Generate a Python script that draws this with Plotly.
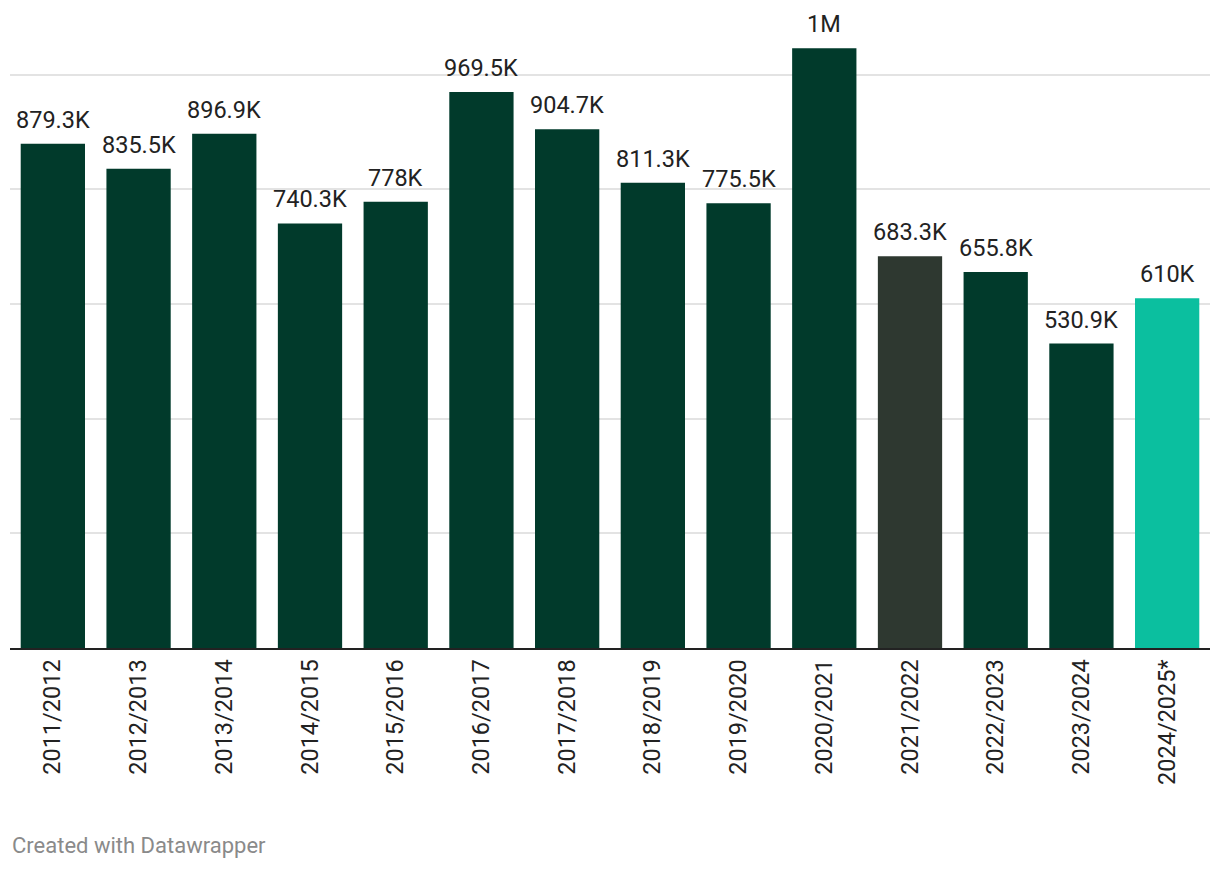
import plotly.graph_objects as go

seasons = ["2011/2012", "2012/2013", "2013/2014", "2014/2015", "2015/2016",
           "2016/2017", "2017/2018", "2018/2019", "2019/2020", "2020/2021",
           "2021/2022", "2022/2023", "2023/2024", "2024/2025*"]
values = [879300, 835500, 896900, 740300, 778000, 969500, 904700, 811300,
          775500, 1046000, 683300, 655800, 530900, 610000]
labels = ["879.3K", "835.5K", "896.9K", "740.3K", "778K", "969.5K", "904.7K",
          "811.3K", "775.5K", "1M", "683.3K", "655.8K", "530.9K", "610K"]

DARK = "#013a2b"
colors = [DARK] * len(seasons)
colors[10] = "#2e3830"
colors[13] = "#0bbf9f"

W, H = 1204, 854
PLOT_H = 640
B = H - PLOT_H

fig = go.Figure(go.Bar(
    x=seasons, y=values,
    marker=dict(color=colors, line=dict(width=0)),
    cliponaxis=False, hoverinfo="skip",
))

annotations = [dict(x=s, y=v, text=t, xref="x", yref="y", xanchor="center",
                    yanchor="bottom", yshift=8, showarrow=False,
                    font=dict(family="Roboto", size=23.5, color="#222222"))
               for s, v, t in zip(seasons, values, labels)]
annotations.append(dict(text="Created with Datawrapper", x=0,
                        y=-(837 - PLOT_H) / PLOT_H,
                        xref="paper", yref="paper", xanchor="left", yanchor="middle",
                        showarrow=False,
                        font=dict(family="Roboto", size=22, color="#8a8a8a")))

fig.update_layout(
    width=W, height=H,
    margin=dict(l=2, r=2, t=0, b=B),
    paper_bgcolor="white", plot_bgcolor="white",
    bargap=0.25, showlegend=False,
    font=dict(family="Roboto", color="#222222"),
    xaxis=dict(tickangle=-90, tickfont=dict(family="Roboto", size=23.5, color="#222222"),
               showline=True, linecolor="#222222", linewidth=2, ticks="",
               showgrid=False),
    yaxis=dict(range=[0, 1116000], dtick=200000, showgrid=True,
               gridcolor="#e3e3e3", gridwidth=1.5, zeroline=False,
               showticklabels=False, ticks=""),
    annotations=annotations,
)

fig.write_html("out.html")
